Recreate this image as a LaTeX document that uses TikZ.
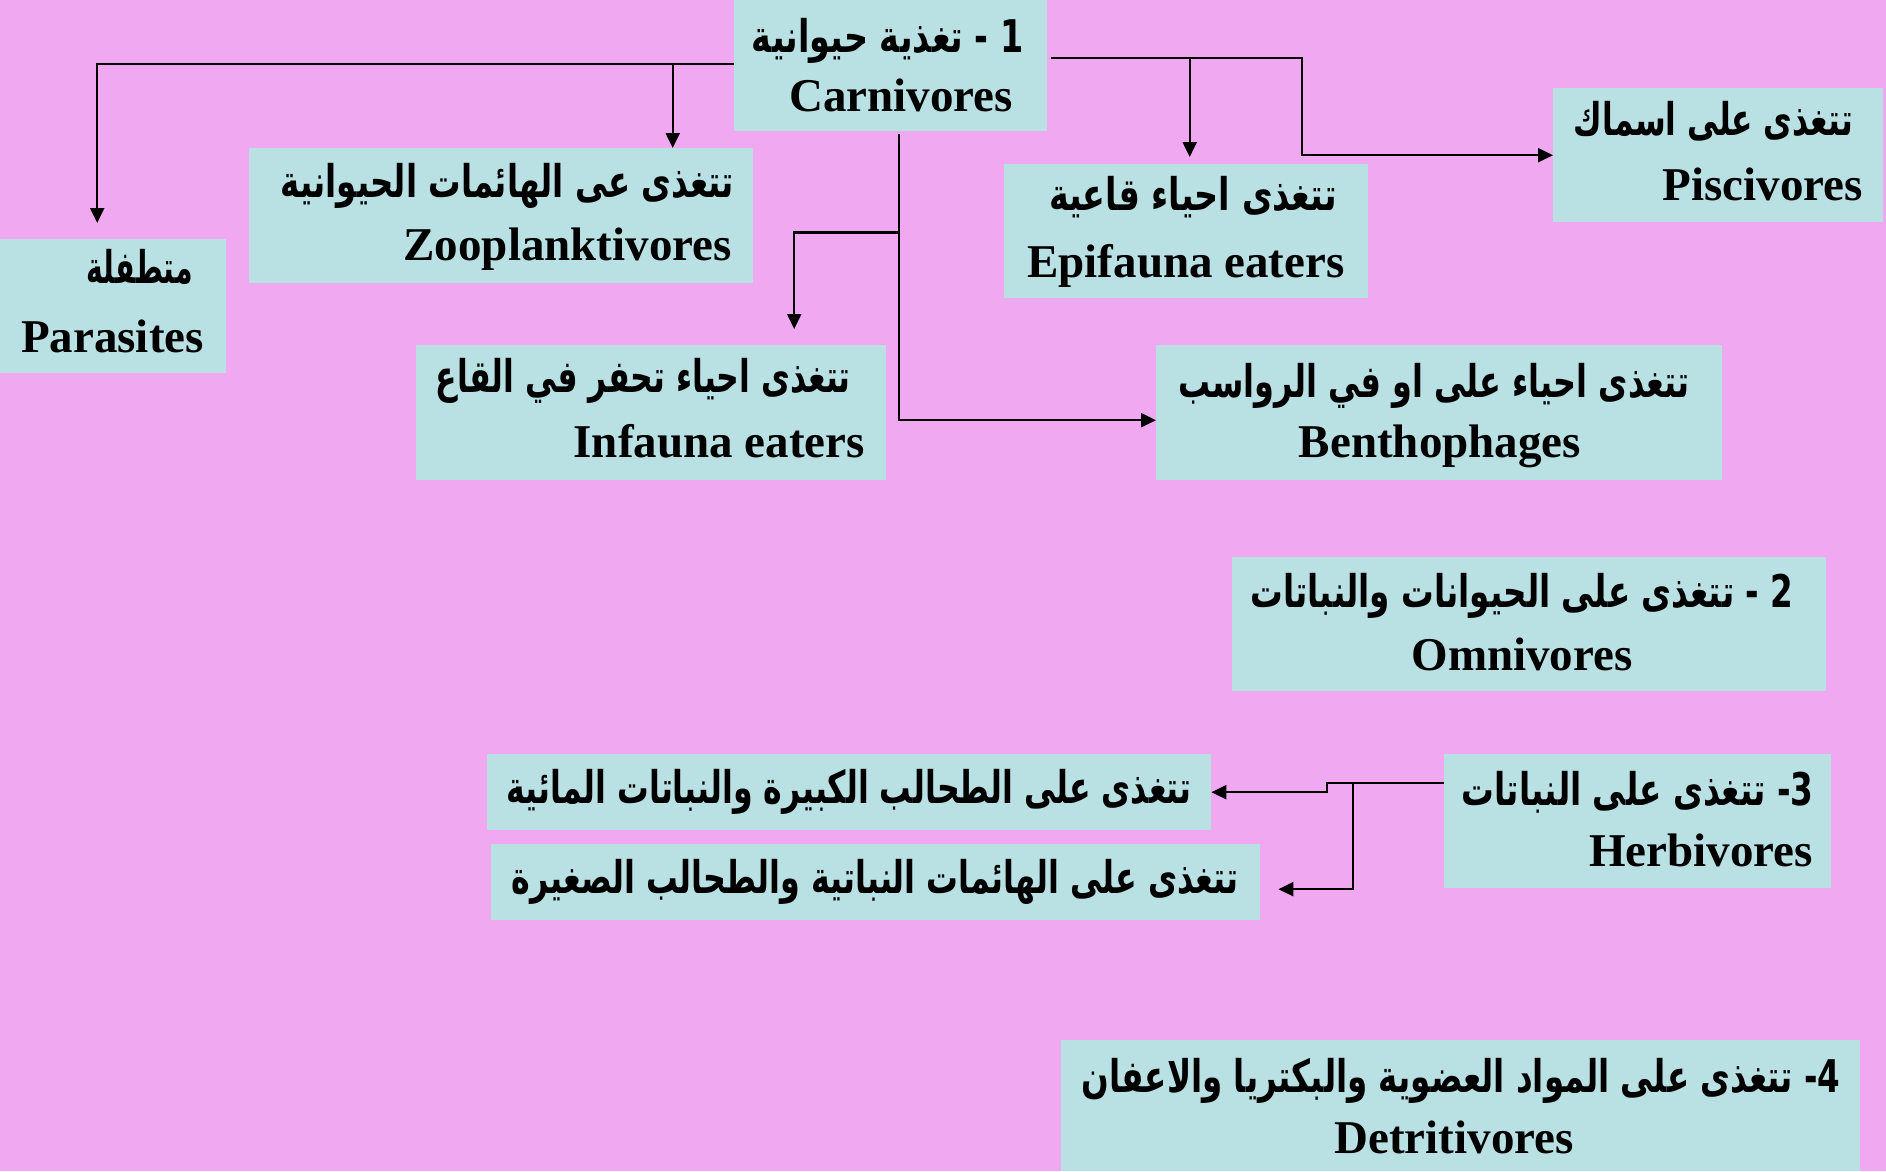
\documentclass[tikz,border=0pt]{standalone}
\usepackage{fontspec}
\usepackage{graphicx}
\setmainfont{Liberation Serif}
\newfontfamily\arabicfont[Script=Arabic]{DejaVu Sans}
\TeXXeTstate=1
\usetikzlibrary{arrows.meta,calc}
\definecolor{bgpink}{RGB}{240,168,240}
\definecolor{boxcyan}{RGB}{185,224,227}
\newcommand{\artxt}[2]{\resizebox{#1pt}{\height}{\arabicfont\bfseries\fontsize{45}{52}\selectfont #2}}
\tikzset{
  box/.style={fill=boxcyan, inner sep=0pt, anchor=north west},
  en/.style={font=\bfseries\fontsize{47}{56}\selectfont, inner sep=0pt},
  arl/.style={inner sep=0pt},
  arr/.style={line width=2.2pt, -{Triangle[length=15pt,width=14pt]}},
}
\begin{document}
\begin{tikzpicture}[x=1pt,y=-1pt]
\useasboundingbox (0,0) rectangle (1886,1171);
\fill[bgpink] (0,0) rectangle (1886,1171);

% boxes
\node[box, minimum width=313pt, minimum height=131pt] (carn) at (734,0) {};
\node[box, minimum width=504pt, minimum height=135pt] (zoo) at (249,148) {};
\node[box, minimum width=226pt, minimum height=134pt] (para) at (0,239) {};
\node[box, minimum width=470pt, minimum height=135pt] (inf) at (416,345) {};
\node[box, minimum width=566pt, minimum height=135pt] (ben) at (1156,345) {};
\node[box, minimum width=364pt, minimum height=134pt] (epi) at (1004,164) {};
\node[box, minimum width=330pt, minimum height=134pt] (pisc) at (1553,88) {};
\node[box, minimum width=594pt, minimum height=134pt] (omni) at (1232,557) {};
\node[box, minimum width=387pt, minimum height=134pt] (herb) at (1444,754) {};
\node[box, minimum width=724pt, minimum height=76pt] (macro) at (487,754) {};
\node[box, minimum width=769pt, minimum height=76pt] (phyto) at (491,844) {};
\node[box, minimum width=799pt, minimum height=131pt] (detr) at (1061,1040) {};

% texts
\node[arl, anchor=base east] (carnA) at (1024,52) {\artxt{272}{\beginR 1 - تغذية حيوانية\endR}};
\node[en, anchor=base east] (carnE) at (1013,111) {Carnivores};
\node[arl, anchor=base east] (zooA) at (734,197) {\artxt{453}{\beginR تتغذى عى الهائمات الحيوانية\endR}};
\node[en, anchor=base east] (zooE) at (732,260) {Zooplanktivores};
\node[arl, anchor=base east] (paraA) at (193,283) {\artxt{106}{\beginR متطفلة\endR}};
\node[en, anchor=base east] (paraE) at (204,352) {Parasites};
\node[arl, anchor=base east] (infA) at (851,392) {\artxt{415}{\beginR تتغذى احياء تحفر في القاع\endR}};
\node[en, anchor=base east] (infE) at (865,457) {Infauna eaters};
\node[arl, anchor=base] (benA) at (1434,397) {\artxt{511}{\beginR تتغذى احياء على او في الرواسب\endR}};
\node[en, anchor=base] (benE) at (1440,457) {Benthophages};
\node[arl, anchor=base] (epiA) at (1193,210) {\artxt{288}{\beginR تتغذى احياء قاعية\endR}};
\node[en, anchor=base] (epiE) at (1186,277) {Epifauna eaters};
\node[arl, anchor=base east] (piscA) at (1853,135) {\artxt{279}{\beginR تتغذى على اسماك\endR}};
\node[en, anchor=base east] (piscE) at (1863,200) {Piscivores};
\node[arl, anchor=base] (omniA) at (1522,607) {\artxt{543}{\beginR 2 - تتغذى على الحيوانات والنباتات\endR}};
\node[en, anchor=base] (omniE) at (1522,670) {Omnivores};
\node[arl, anchor=base east] (herbA) at (1814,805) {\artxt{352}{\beginR 3- تتغذى على النباتات\endR}};
\node[en, anchor=base east] (herbE) at (1813,866) {Herbivores};
\node[arl, anchor=base east] (macroA) at (1192,803) {\artxt{685}{\beginR تتغذى على الطحالب الكبيرة والنباتات المائية\endR}};
\node[arl, anchor=base east] (phytoA) at (1239,893) {\artxt{727}{\beginR تتغذى على الهائمات النباتية والطحالب الصغيرة\endR}};
\node[arl, anchor=base] (detrA) at (1461,1092) {\artxt{759}{\beginR 4- تتغذى على المواد العضوية والبكتريا والاعفان\endR}};
\node[en, anchor=base] (detrE) at (1454,1153) {Detritivores};

% connector points
\coordinate (cw) at ([yshift=1.5pt]carn.west);
\coordinate (ce) at ([xshift=4pt,yshift=7.5pt]carn.east);
\coordinate (cs) at ([xshift=8.5pt,yshift=-3pt]carn.south);
\coordinate (zj) at ([xshift=171.5pt]zoo.north);
\coordinate (ej) at ([xshift=3.5pt,yshift=7pt]epi.north);
\coordinate (ij) at ([xshift=143pt,yshift=16pt]inf.north);
\coordinate (hw) at ([yshift=38pt]herb.west);

% connectors
\draw[arr] (cw) -| ([xshift=-16pt,yshift=16pt]para.north);
\draw[arr] (zj |- cw) -- (zj);
\draw[arr] (ce) -| ($(pisc.west)+(-251,0)$) -- (pisc.west);
\draw[arr] (ej |- ce) -- (ej);
\draw[arr] (cs) |- ([yshift=-7.5pt]ben.west);
\draw[arr] ($(cs)+(0,98)$) -| (ij);
\draw[arr] (hw) -- ++(-117,0) |- (macro.east);
\draw[arr] ($(hw)+(-91,0)$) |- ([xshift=18pt,yshift=-7pt]phyto.east);
\end{tikzpicture}
\end{document}
